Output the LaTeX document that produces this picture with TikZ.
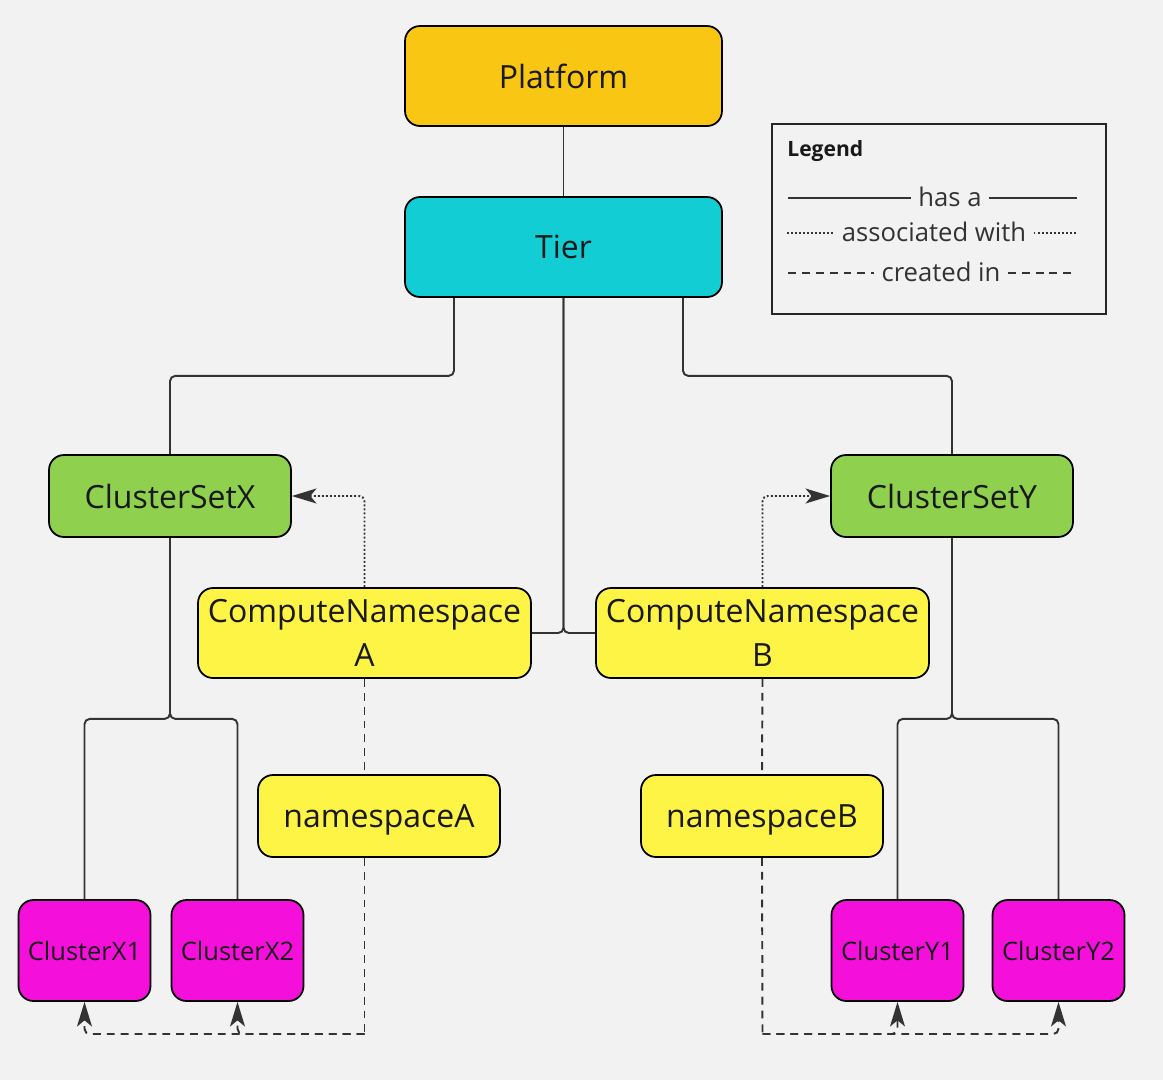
\documentclass[tikz,border=0pt]{standalone}
\usepackage{fontspec}
\setmainfont{Open Sans}
\usetikzlibrary{arrows.meta,positioning,calc}

\definecolor{bggray}{HTML}{F2F2F2}
\definecolor{linegray}{HTML}{333333}
\definecolor{platformclr}{HTML}{F9C713}
\definecolor{tierclr}{HTML}{12CDD4}
\definecolor{setclr}{HTML}{8FD14F}
\definecolor{nsclr}{HTML}{FEF445}
\definecolor{clusterclr}{HTML}{F40FDB}

\tikzset{
  box/.style={draw=black, line width=1pt, rounded corners=8.5pt, inner sep=0pt,
    align=center, text=black!90, font=\fontsize{18.2}{25}\selectfont},
  topbox/.style={box, minimum width=6.34cm, minimum height=2cm},
  setbox/.style={box, fill=setclr, minimum width=4.84cm, minimum height=1.64cm},
  computebox/.style={box, fill=nsclr, minimum width=6.66cm, minimum height=1.8cm},
  nsbox/.style={box, fill=nsclr, minimum width=4.84cm, minimum height=1.64cm, text depth=0pt},
  clusterbox/.style={box, fill=clusterclr, minimum width=2.64cm, minimum height=2.02cm,
    font=\fontsize{14.5}{17}\selectfont},
  hasa/.style={draw=linegray, line width=1.1pt, rounded corners=3pt},
  assoc/.style={draw=linegray, line width=1.1pt, rounded corners=3pt,
    dash pattern=on 1.1pt off 1.2pt},
  created/.style={draw=linegray, line width=1.1pt, rounded corners=3pt,
    dash pattern=on 4.5pt off 3.4pt},
  legendtext/.style={inner sep=4pt, text=linegray, font=\fontsize{14.6}{17}\selectfont}
}

\begin{document}
\begin{tikzpicture}[x=0.02cm, y=-0.02cm, >={Stealth[length=14pt, width=8.5pt, inset=3.5pt]}]

  % Background
  \fill[bggray] (0,0) rectangle (1163,1080);
  \useasboundingbox (0,0) rectangle (1163,1080);

  % Top of the tree
  \node[topbox, fill=platformclr] (platform) at (563.5,76) {Platform};
  \node[topbox, fill=tierclr] (tier) at (563.5,247) {Tier};

  % Cluster sets
  \node[setbox] (setx) at (170,496) {ClusterSetX};
  \node[setbox] (sety) at (952,496) {ClusterSetY};

  % Compute namespaces
  \node[computebox] (cnsa) at (364.5,633) {ComputeNamespace\\A};
  \node[computebox] (cnsb) at (762.5,633) {ComputeNamespace\\B};

  % Namespaces
  \node[nsbox] (nsa) at (379,816) {namespaceA};
  \node[nsbox] (nsb) at (762,816) {namespaceB};

  % Clusters
  \node[clusterbox] (cx1) at (84.5,950.5) {ClusterX1};
  \node[clusterbox] (cx2) at (237.5,950.5) {ClusterX2};
  \node[clusterbox] (cy1) at (897.5,950.5) {ClusterY1};
  \node[clusterbox] (cy2) at (1058.5,950.5) {ClusterY2};

  % has a
  \draw[hasa] (platform) -- (tier);
  \draw[hasa] ([xshift=-2.19cm]tier.south) -- ++(0,78) -| (setx.north);
  \draw[hasa] ([xshift=2.39cm]tier.south) -- ++(0,78) -| (sety.north);
  \draw[hasa] (tier.south) |- (cnsa.east);
  \draw[hasa] (tier.south) |- (cnsb.west);
  \draw[hasa] (setx.south) -- ++(0,181) -| (cx1.north);
  \draw[hasa] (setx.south) -- ++(0,181) -| (cx2.north);
  \draw[hasa] (sety.south) -- ++(0,181) -| (cy1.north);
  \draw[hasa] (sety.south) -- ++(0,181) -| (cy2.north);

  % associated with
  \draw[assoc, ->] (cnsa.north) |- (setx.east);
  \draw[assoc, ->] (cnsb.north) |- (sety.west);

  % created in
  \coordinate (joina) at (364.5,1034);
  \coordinate (joinb) at (762.5,1034);
  \draw[created] (cnsa.south) -- (cnsa.south |- nsa.north);
  \draw[created] (cnsb.south) -- (nsb.north);
  \draw[created] (cnsa.south |- nsa.south) -- (joina);
  \draw[created] (nsb.south) -- (joinb);
  \draw[created, ->] (joina) -| (cx1.south);
  \draw[created, ->] (joina) -| (cx2.south);
  \draw[created, ->] (joinb) -| (cy1.south);
  \draw[created, ->] (joinb) -| (cy2.south);

  % Legend
  \node[draw=black!85, line width=1.2pt, minimum width=6.68cm, minimum height=3.8cm] (legend) at (939,219) {};
  \node[anchor=west, inner sep=0pt, text=black!90, font=\fontsize{12}{14}\selectfont\bfseries] (legtitle) at (787,151) {Legend};
  \node[legendtext] (hasatext) at (950,197) {has a};
  \node[legendtext] (assoctext) at (934,232) {associated with};
  \node[legendtext] (createdtext) at (941,272) {created in};
  \draw[hasa] (788,198) -- (hasatext.west |- 0,198);
  \draw[hasa] (hasatext.east |- 0,198) -- (1077,198);
  \draw[assoc] (787,233) -- (assoctext.west |- 0,233);
  \draw[assoc] (assoctext.east |- 0,233) -- (1077,233);
  \draw[created] (788,273) -- (createdtext.west |- 0,273);
  \draw[created] (createdtext.east |- 0,273) -- (1071,273);

\end{tikzpicture}
\end{document}
